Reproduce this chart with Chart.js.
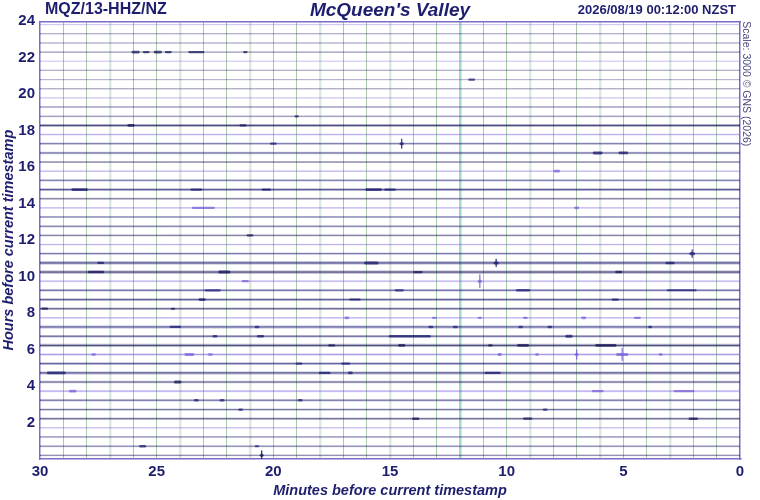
<!DOCTYPE html>
<html><head><meta charset="utf-8">
<script src="https://cdn.jsdelivr.net/npm/chart.js@4.4.1/dist/chart.umd.min.js"></script>
<style>html,body{margin:0;padding:0;background:#fff;}canvas{display:block}</style>
</head><body>
<canvas id="c" width="760" height="500"></canvas>
<script>
// ---- data ----
const stationLabel = 'MQZ/13-HHZ/NZ';
const titleText = "McQueen's Valley";
const stampLabel = '2026/08/19 00:12:00 NZST';
const scaleNote = 'Scale: 3000 \u00A9 GNS (2026)';
const xTitle = 'Minutes before current timestamp';
const yTitle = 'Hours before current timestamp';
const minuteTicks = [0, 5, 10, 15, 20, 25, 30];
const hourTicks = [2, 4, 6, 8, 10, 12, 14, 16, 18, 20, 22, 24];
// hour (before now) at which each 30-minute trace line sits, bottom to top
const traceHours = [0.20,0.70,1.21,1.71,2.21,2.71,3.22,3.72,4.22,4.72,5.23,5.73,6.23,6.73,7.24,7.74,
  8.24,8.74,9.25,9.75,10.25,10.75,11.26,11.76,12.26,12.76,13.27,13.77,14.27,14.77,15.28,15.78,
  16.28,16.78,17.29,17.79,18.29,18.79,19.30,19.80,20.30,20.80,21.31,21.81,22.31,22.81,23.32,23.82];
// background noise level of each trace (0..1), bottom to top
const traceNoise = [0.40,0.45,0.40,0.30,0.60,0.55,0.60,0.45,0.60,0.80,0.70,0.55,0.80,0.65,0.75,0.40,
  0.65,0.70,0.65,0.40,0.85,0.85,0.55,0.35,0.45,0.50,0.50,0.35,0.50,0.75,0.55,0.35,
  0.45,0.60,0.55,0.40,0.80,0.35,0.35,0.25,0.25,0.20,0.25,0.20,0.30,0.25,0.25,0.20];
// events: [trace index, minute, half duration (min), amplitude (h units)]
const traceEvents = [
  [44,25.9,0.12,0.10],[44,25.45,0.1,0.07],[44,24.95,0.12,0.10],[44,24.5,0.1,0.07],[44,23.3,0.3,0.06],[44,21.2,0.05,0.06],
  [41,11.5,0.1,0.06],[37,19.0,0.05,0.06],[36,26.1,0.1,0.10],[36,21.3,0.1,0.07],
  [34,20.0,0.1,0.06],[34,14.5,0.03,0.25],[33,6.1,0.15,0.13],[33,5.0,0.15,0.11],[31,7.85,0.08,0.11],
  [29,28.3,0.3,0.10],[29,23.3,0.2,0.08],[29,20.3,0.15,0.08],[29,15.7,0.3,0.10],[29,15.0,0.2,0.08],
  [27,23.0,0.45,0.05],[27,7.0,0.05,0.10],[24,21.0,0.1,0.06],[22,2.05,0.06,0.20],
  [21,27.4,0.1,0.07],[21,15.8,0.25,0.15],[21,10.45,0.05,0.20],[21,3.0,0.15,0.08],
  [20,27.6,0.3,0.08],[20,22.1,0.2,0.15],[20,13.8,0.15,0.07],[20,5.2,0.1,0.08],
  [19,21.2,0.1,0.08],[19,11.15,0.03,0.35],
  [18,22.6,0.3,0.07],[18,14.6,0.15,0.06],[18,9.3,0.25,0.08],[18,2.5,0.6,0.05],
  [17,23.05,0.1,0.10],[17,16.5,0.2,0.05],[17,5.35,0.1,0.08],[16,29.8,0.1,0.07],[16,24.3,0.05,0.06],
  [15,16.85,0.05,0.10],[15,13.1,0.05,0.08],[15,11.15,0.05,0.06],[15,9.2,0.05,0.08],[15,6.7,0.05,0.12],[15,4.4,0.1,0.08],
  [14,24.2,0.2,0.06],[14,20.7,0.05,0.08],[14,13.25,0.05,0.10],[14,12.2,0.05,0.10],[14,9.4,0.05,0.08],[14,8.15,0.05,0.08],[14,3.85,0.03,0.10],
  [13,22.5,0.05,0.10],[13,20.55,0.1,0.10],[13,14.15,0.85,0.08],[13,7.33,0.1,0.12],
  [12,17.5,0.1,0.08],[12,14.5,0.1,0.10],[12,10.7,0.05,0.08],[12,9.3,0.2,0.10],[12,5.75,0.4,0.10],
  [11,27.7,0.05,0.07],[11,23.6,0.15,0.12],[11,22.7,0.05,0.10],[11,10.3,0.03,0.12],[11,8.7,0.03,0.08],[11,7.0,0.02,0.25],[11,5.05,0.2,0.33],[11,3.4,0.03,0.10],
  [10,18.9,0.1,0.06],[10,16.9,0.15,0.06],
  [9,29.3,0.35,0.10],[9,17.8,0.2,0.08],[9,16.7,0.05,0.10],[9,10.6,0.3,0.07],
  [8,24.1,0.1,0.14],[7,28.6,0.1,0.10],[7,6.1,0.2,0.08],[7,2.4,0.4,0.06],
  [6,23.3,0.05,0.10],[6,22.2,0.05,0.10],[6,18.85,0.05,0.08],[5,21.4,0.05,0.08],[5,8.35,0.05,0.08],
  [4,13.9,0.1,0.10],[4,9.1,0.15,0.07],[4,2.0,0.15,0.08],[1,25.6,0.1,0.08],[1,20.7,0.05,0.06],[0,20.5,0.02,0.25]
];

// ---- styles ----
const palette = [[20,20,88],[26,26,108],[32,32,122],[122,94,216]];
const rgba = (c, a) => `rgba(${c[0]},${c[1]},${c[2]},${a})`;
const textColor = '#1e1e6e';
const frameColor = '#7b6cc9';
const fontFam = '"Liberation Sans", Arial, sans-serif';

const datasets = [];
traceHours.forEach((h, k) => {
  const c = palette[k % 4], n = traceNoise[k];
  datasets.push({ data: [{x: 30, y: h}, {x: 0, y: h}], borderColor: rgba(c, 0.06 + 0.3 * n), borderWidth: 0.8 + 2.8 * n });
  datasets.push({ data: [{x: 30, y: h}, {x: 0, y: h}], borderColor: rgba(c, 0.12 + 0.72 * n), borderWidth: 1 });
});
traceEvents.forEach(([k, m, hw, a]) => {
  const h = traceHours[k], c = palette[k % 4];
  const px = 1.5 + Math.min(a, 0.14) * 11;
  datasets.push({
    data: [{x: m + hw, y: h}, {x: m - hw, y: h}],
    borderColor: rgba(c, 0.72), borderWidth: px, borderCapStyle: 'round'
  });
  if (a >= 0.18) {
    datasets.push({
      data: [{x: m, y: h - a}, {x: m, y: h + a}],
      borderColor: rgba(c, 0.85), borderWidth: 1.3
    });
  }
});

const headerPlugin = {
  id: 'header',
  afterDraw(chart) {
    const ctx = chart.ctx;
    ctx.save();
    ctx.fillStyle = textColor;
    ctx.textBaseline = 'middle';
    ctx.font = `bold 16px ${fontFam}`;
    ctx.textAlign = 'left';
    ctx.fillText(stationLabel, chart.chartArea.left + 5, 10);
    ctx.font = `bold 13px ${fontFam}`;
    ctx.textAlign = 'right';
    ctx.fillText(stampLabel, chart.chartArea.right - 4, 10);
    ctx.restore();
  }
};

const gridColor = (c) => {
  const v = c.tick.value;
  if (v === 0 || v === 30) return 'rgba(0,0,0,0)';
  if (v === 12) return '#a3d6cc';
  return v % 3 === 0 ? '#dbeadc' : '#a9c9a7';
};

new Chart(document.getElementById('c'), {
  type: 'line',
  data: { datasets },
  options: {
    responsive: false, animation: false, devicePixelRatio: 1,
    layout: { padding: 0 },
    elements: { point: { radius: 0 }, line: { tension: 0, borderCapStyle: 'round' } },
    plugins: {
      legend: { display: false }, tooltip: { enabled: false },
      title: { display: true, fullSize: false, text: titleText, color: textColor, padding: {top: 0, bottom: 0},
        font: { family: fontFam, size: 19, weight: 'bold', style: 'italic', lineHeight: 1.12 } }
    },
    scales: {
      x: {
        type: 'linear', reverse: true, min: 0, max: 30, position: 'bottom',
        afterFit: s => { s.height = 41; },
        afterBuildTicks: s => { s.ticks = Array.from({length: 31}, (_, i) => ({value: i})); },
        ticks: { autoSkip: false, maxRotation: 0, padding: 4, color: textColor,
          font: { family: fontFam, size: 15, weight: 'bold' },
          callback: v => minuteTicks.includes(v) ? String(v) : '' },
        grid: { drawTicks: false, color: gridColor, lineWidth: c => (c.tick.value % 3 === 0 ? 2.5 : 1) },
        border: { display: true, color: frameColor, width: 1.5 },
        title: { display: true, text: xTitle, color: textColor, padding: 0,
          font: { family: fontFam, size: 14.5, weight: 'bold', style: 'italic', lineHeight: 1.2 } }
      },
      x2: {
        type: 'linear', position: 'top', min: 0, max: 30,
        afterFit: s => { s.height = 0; },
        ticks: { display: false }, grid: { display: false, drawTicks: false },
        border: { display: true, color: frameColor, width: 1.5 }
      },
      y: {
        type: 'linear', min: 0, max: 24, position: 'left',
        afterFit: s => { s.width = 40; },
        afterBuildTicks: s => { s.ticks = hourTicks.map(v => ({value: v})); },
        ticks: { padding: 5, color: textColor, font: { family: fontFam, size: 15, weight: 'bold' } },
        grid: { display: false, drawTicks: false },
        border: { display: true, color: frameColor, width: 1.5 },
        title: { display: true, text: yTitle, color: textColor, padding: 0,
          font: { family: fontFam, size: 14.5, weight: 'bold', style: 'italic', lineHeight: 1.2 } }
      },
      y2: {
        type: 'linear', position: 'right', min: 0, max: 24,
        afterFit: s => { s.width = 20; },
        ticks: { display: false }, grid: { display: false, drawTicks: false },
        border: { display: true, color: frameColor, width: 1.5 },
        title: { display: true, text: scaleNote, align: 'end', color: '#4a4a80', padding: {top: 8, bottom: 0},
          font: { family: fontFam, size: 10.5, lineHeight: 1.2 } }
      }
    }
  },
  plugins: [headerPlugin]
});
</script>
</body></html>
